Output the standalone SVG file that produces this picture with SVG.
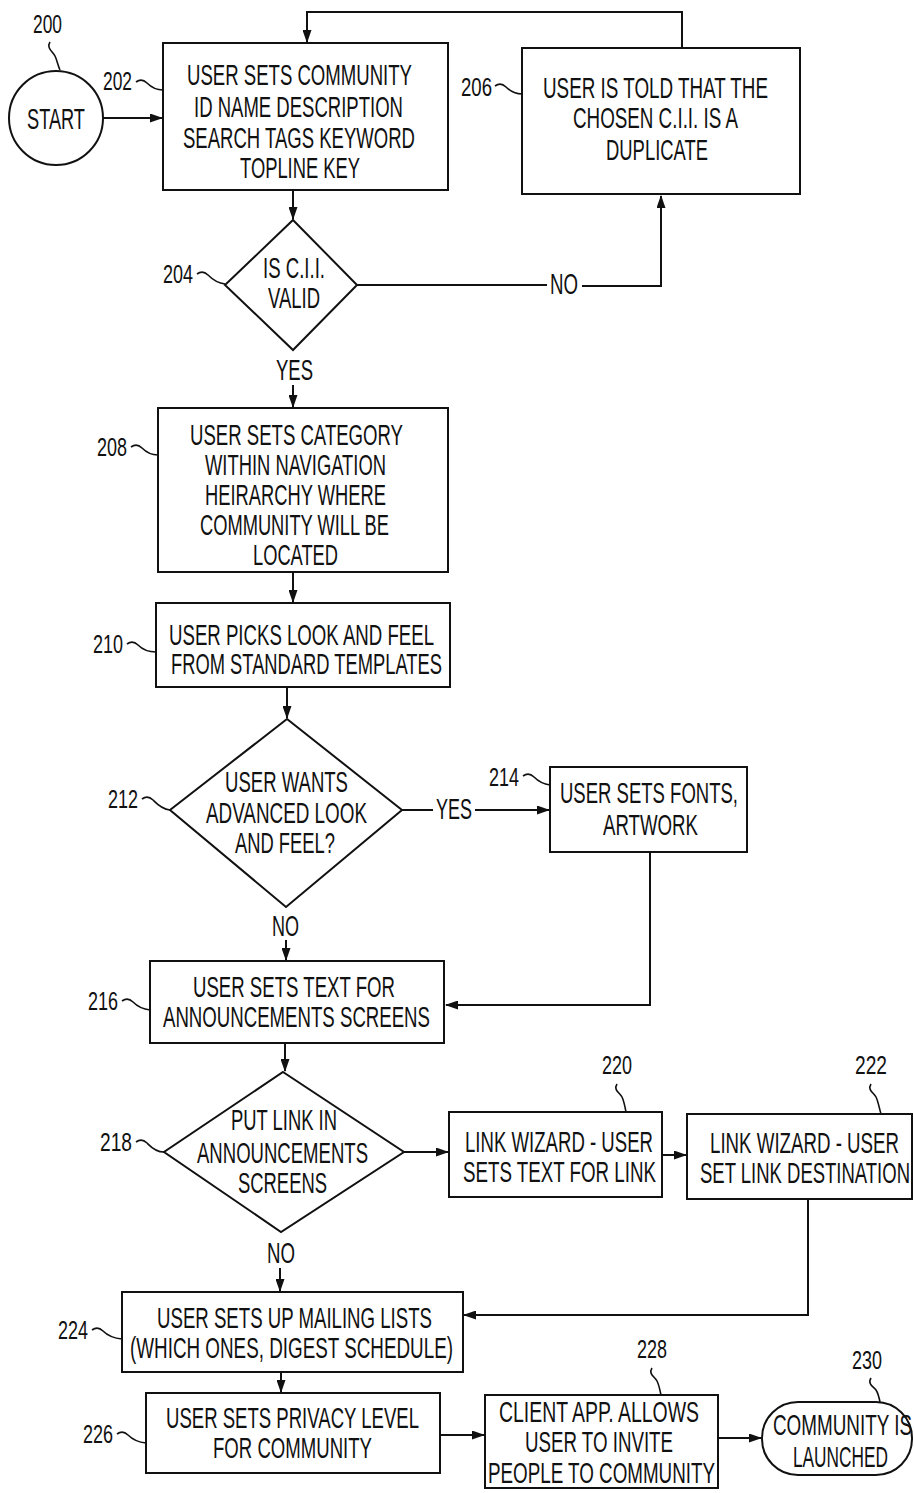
<svg xmlns="http://www.w3.org/2000/svg" width="914" height="1493" viewBox="0 0 914 1493">
<style>
.s{fill:#fff;stroke:#111;stroke-width:2}
.c{fill:none;stroke:#111;stroke-width:2}
.q{fill:none;stroke:#111;stroke-width:1.6}
.t{font-family:"Liberation Sans",Arial,sans-serif;font-size:29px;fill:#111}
.l{font-family:"Liberation Sans",Arial,sans-serif;font-size:25px;fill:#111}
</style>
<defs>
<marker id="a" markerUnits="userSpaceOnUse" markerWidth="13" markerHeight="9" refX="12" refY="4.5" orient="auto">
<path d="M0,0 L13,4.5 L0,9 z" fill="#111"/>
</marker>
</defs>
<rect width="914" height="1493" fill="#fff"/>

<g id="connectors">
<path class="c" d="M103,118 H162" marker-end="url(#a)"/>
<path class="c" d="M682,48 V12 H307 V42" marker-end="url(#a)"/>
<path class="c" d="M293,190 V219" marker-end="url(#a)"/>
<path class="c" d="M357,285 H547"/>
<path class="c" d="M582,286 H661 V196" marker-end="url(#a)"/>
<path class="c" d="M293,385 V407" marker-end="url(#a)"/>
<path class="c" d="M293,572 V602" marker-end="url(#a)"/>
<path class="c" d="M287,687 V718" marker-end="url(#a)"/>
<path class="c" d="M402,810 H433"/>
<path class="c" d="M475,810 H549" marker-end="url(#a)"/>
<path class="c" d="M286,940 V960" marker-end="url(#a)"/>
<path class="c" d="M650,852 V1005 H446" marker-end="url(#a)"/>
<path class="c" d="M285,1043 V1071" marker-end="url(#a)"/>
<path class="c" d="M404,1152 H448" marker-end="url(#a)"/>
<path class="c" d="M280,1268 V1291" marker-end="url(#a)"/>
<path class="c" d="M662,1155 H686" marker-end="url(#a)"/>
<path class="c" d="M808,1199 V1315 H464" marker-end="url(#a)"/>
<path class="c" d="M281,1372 V1392" marker-end="url(#a)"/>
<path class="c" d="M440,1435 H484" marker-end="url(#a)"/>
<path class="c" d="M718,1438 H761" marker-end="url(#a)"/>
</g>

<g id="edge-labels">
<text class="t" x="550" y="294" textLength="28" lengthAdjust="spacingAndGlyphs">NO</text>
<text class="t" x="276" y="380" textLength="37" lengthAdjust="spacingAndGlyphs">YES</text>
<text class="t" x="436" y="819" textLength="36" lengthAdjust="spacingAndGlyphs">YES</text>
<text class="t" x="272" y="936" textLength="27" lengthAdjust="spacingAndGlyphs">NO</text>
<text class="t" x="267" y="1263" textLength="28" lengthAdjust="spacingAndGlyphs">NO</text>
</g>

<g id="n200">
<circle class="s" cx="56" cy="118" r="47"/>
<text class="t" x="27" y="129" textLength="58" lengthAdjust="spacingAndGlyphs">START</text>
<text class="l" x="33" y="33" textLength="29" lengthAdjust="spacingAndGlyphs">200</text>
<path class="q" d="M50,42 c-4,6 3,10 5,14 s3,10 5,14"/>
</g>

<g id="n202">
<rect class="s" x="163" y="43" width="285" height="147"/>
<text class="t" x="187" y="85" textLength="225" lengthAdjust="spacingAndGlyphs">USER SETS COMMUNITY</text>
<text class="t" x="194" y="117" textLength="209" lengthAdjust="spacingAndGlyphs">ID NAME DESCRIPTION</text>
<text class="t" x="183" y="148" textLength="232" lengthAdjust="spacingAndGlyphs">SEARCH TAGS KEYWORD</text>
<text class="t" x="240" y="178" textLength="120" lengthAdjust="spacingAndGlyphs">TOPLINE KEY</text>
<text class="l" x="103" y="90" textLength="29" lengthAdjust="spacingAndGlyphs">202</text>
<path class="q" d="M136,82 c4,-3 8,-2 11,1 s8,7 16,7"/>
</g>

<g id="n206">
<rect class="s" x="522" y="48" width="278" height="146"/>
<text class="t" x="543" y="98" textLength="225" lengthAdjust="spacingAndGlyphs">USER IS TOLD THAT THE</text>
<text class="t" x="573" y="128" textLength="165" lengthAdjust="spacingAndGlyphs">CHOSEN C.I.I. IS A</text>
<text class="t" x="606" y="160" textLength="102" lengthAdjust="spacingAndGlyphs">DUPLICATE</text>
<text class="l" x="461" y="96" textLength="31" lengthAdjust="spacingAndGlyphs">206</text>
<path class="q" d="M495,86 c4,-3 8,-2 11,1 s8,7 16,7"/>
</g>

<g id="n204">
<polygon class="s" points="293,220 357,285 293,350 225,285"/>
<text class="t" x="263" y="278" textLength="62" lengthAdjust="spacingAndGlyphs">IS C.I.I.</text>
<text class="t" x="268" y="308" textLength="52" lengthAdjust="spacingAndGlyphs">VALID</text>
<text class="l" x="163" y="283" textLength="30" lengthAdjust="spacingAndGlyphs">204</text>
<path class="q" d="M197,274 c4,-3 8,-2 11,1 s8,8 17,9"/>
</g>

<g id="n208">
<rect class="s" x="158" y="408" width="290" height="164"/>
<text class="t" x="190" y="445" textLength="213" lengthAdjust="spacingAndGlyphs">USER SETS CATEGORY</text>
<text class="t" x="205" y="475" textLength="181" lengthAdjust="spacingAndGlyphs">WITHIN NAVIGATION</text>
<text class="t" x="205" y="505" textLength="181" lengthAdjust="spacingAndGlyphs">HEIRARCHY WHERE</text>
<text class="t" x="200" y="535" textLength="189" lengthAdjust="spacingAndGlyphs">COMMUNITY WILL BE</text>
<text class="t" x="253" y="565" textLength="85" lengthAdjust="spacingAndGlyphs">LOCATED</text>
<text class="l" x="97" y="456" textLength="30" lengthAdjust="spacingAndGlyphs">208</text>
<path class="q" d="M131,447 c4,-3 8,-2 11,1 s8,7 16,7"/>
</g>

<g id="n210">
<rect class="s" x="156" y="603" width="294" height="84"/>
<text class="t" x="169" y="645" textLength="265" lengthAdjust="spacingAndGlyphs">USER PICKS LOOK AND FEEL</text>
<text class="t" x="171" y="674" textLength="271" lengthAdjust="spacingAndGlyphs">FROM STANDARD TEMPLATES</text>
<text class="l" x="93" y="653" textLength="30" lengthAdjust="spacingAndGlyphs">210</text>
<path class="q" d="M127,644 c4,-3 8,-2 11,1 s8,7 18,7"/>
</g>

<g id="n212">
<polygon class="s" points="287,719 402,810 286,907 170,810"/>
<text class="t" x="225" y="792" textLength="123" lengthAdjust="spacingAndGlyphs">USER WANTS</text>
<text class="t" x="206" y="823" textLength="161" lengthAdjust="spacingAndGlyphs">ADVANCED LOOK</text>
<text class="t" x="235" y="853" textLength="100" lengthAdjust="spacingAndGlyphs">AND FEEL?</text>
<text class="l" x="108" y="808" textLength="30" lengthAdjust="spacingAndGlyphs">212</text>
<path class="q" d="M142,799 c4,-3 8,-2 11,1 s8,9 17,10"/>
</g>

<g id="n214">
<rect class="s" x="550" y="767" width="197" height="85"/>
<text class="t" x="560" y="803" textLength="178" lengthAdjust="spacingAndGlyphs">USER SETS FONTS,</text>
<text class="t" x="603" y="835" textLength="95" lengthAdjust="spacingAndGlyphs">ARTWORK</text>
<text class="l" x="489" y="786" textLength="30" lengthAdjust="spacingAndGlyphs">214</text>
<path class="q" d="M523,776 c4,-3 8,-2 11,1 s8,7 16,8"/>
</g>

<g id="n216">
<rect class="s" x="150" y="961" width="294" height="82"/>
<text class="t" x="193" y="997" textLength="202" lengthAdjust="spacingAndGlyphs">USER SETS TEXT FOR</text>
<text class="t" x="163" y="1027" textLength="267" lengthAdjust="spacingAndGlyphs">ANNOUNCEMENTS SCREENS</text>
<text class="l" x="88" y="1010" textLength="30" lengthAdjust="spacingAndGlyphs">216</text>
<path class="q" d="M122,1001 c4,-3 8,-2 11,1 s8,7 17,8"/>
</g>

<g id="n218">
<polygon class="s" points="283,1072 404,1152 281,1232 164,1152"/>
<text class="t" x="231" y="1130" textLength="106" lengthAdjust="spacingAndGlyphs">PUT LINK IN</text>
<text class="t" x="197" y="1163" textLength="171" lengthAdjust="spacingAndGlyphs">ANNOUNCEMENTS</text>
<text class="t" x="238" y="1193" textLength="89" lengthAdjust="spacingAndGlyphs">SCREENS</text>
<text class="l" x="100" y="1151" textLength="32" lengthAdjust="spacingAndGlyphs">218</text>
<path class="q" d="M136,1142 c4,-3 8,-2 11,1 s8,9 17,9"/>
</g>

<g id="n220">
<rect class="s" x="449" y="1112" width="213" height="85"/>
<text class="t" x="465" y="1152" textLength="188" lengthAdjust="spacingAndGlyphs">LINK WIZARD - USER</text>
<text class="t" x="463" y="1182" textLength="193" lengthAdjust="spacingAndGlyphs">SETS TEXT FOR LINK</text>
<text class="l" x="602" y="1074" textLength="30" lengthAdjust="spacingAndGlyphs">220</text>
<path class="q" d="M617,1084 c-4,6 3,9 5,13 s3,10 4,15"/>
</g>

<g id="n222">
<rect class="s" x="687" y="1114" width="225" height="85"/>
<text class="t" x="710" y="1153" textLength="189" lengthAdjust="spacingAndGlyphs">LINK WIZARD - USER</text>
<text class="t" x="700" y="1183" textLength="210" lengthAdjust="spacingAndGlyphs">SET LINK DESTINATION</text>
<text class="l" x="855" y="1074" textLength="32" lengthAdjust="spacingAndGlyphs">222</text>
<path class="q" d="M871,1084 c-4,6 3,9 5,13 s3,10 5,17"/>
</g>

<g id="n224">
<rect class="s" x="122" y="1292" width="341" height="80"/>
<text class="t" x="157" y="1328" textLength="275" lengthAdjust="spacingAndGlyphs">USER SETS UP MAILING LISTS</text>
<text class="t" x="130" y="1358" textLength="323" lengthAdjust="spacingAndGlyphs">(WHICH ONES, DIGEST SCHEDULE)</text>
<text class="l" x="58" y="1339" textLength="30" lengthAdjust="spacingAndGlyphs">224</text>
<path class="q" d="M92,1330 c4,-3 8,-2 11,1 s8,7 19,8"/>
</g>

<g id="n226">
<rect class="s" x="146" y="1393" width="294" height="80"/>
<text class="t" x="166" y="1428" textLength="253" lengthAdjust="spacingAndGlyphs">USER SETS PRIVACY LEVEL</text>
<text class="t" x="213" y="1458" textLength="159" lengthAdjust="spacingAndGlyphs">FOR COMMUNITY</text>
<text class="l" x="83" y="1443" textLength="30" lengthAdjust="spacingAndGlyphs">226</text>
<path class="q" d="M117,1434 c4,-3 8,-2 11,1 s8,7 18,8"/>
</g>

<g id="n228">
<rect class="s" x="485" y="1395" width="233" height="93"/>
<text class="t" x="499" y="1422" textLength="200" lengthAdjust="spacingAndGlyphs">CLIENT APP. ALLOWS</text>
<text class="t" x="525" y="1452" textLength="148" lengthAdjust="spacingAndGlyphs">USER TO INVITE</text>
<text class="t" x="488" y="1483" textLength="227" lengthAdjust="spacingAndGlyphs">PEOPLE TO COMMUNITY</text>
<text class="l" x="637" y="1358" textLength="30" lengthAdjust="spacingAndGlyphs">228</text>
<path class="q" d="M652,1368 c-4,6 3,9 5,13 s3,9 4,14"/>
</g>

<g id="n230">
<rect class="s" x="762" y="1402" width="150" height="73" rx="36" ry="36"/>
<text class="t" x="773" y="1435" textLength="139" lengthAdjust="spacingAndGlyphs">COMMUNITY IS</text>
<text class="t" x="793" y="1467" textLength="95" lengthAdjust="spacingAndGlyphs">LAUNCHED</text>
<text class="l" x="852" y="1369" textLength="30" lengthAdjust="spacingAndGlyphs">230</text>
<path class="q" d="M871,1378 c-4,6 3,9 5,12 s3,7 4,12"/>
</g>
</svg>
